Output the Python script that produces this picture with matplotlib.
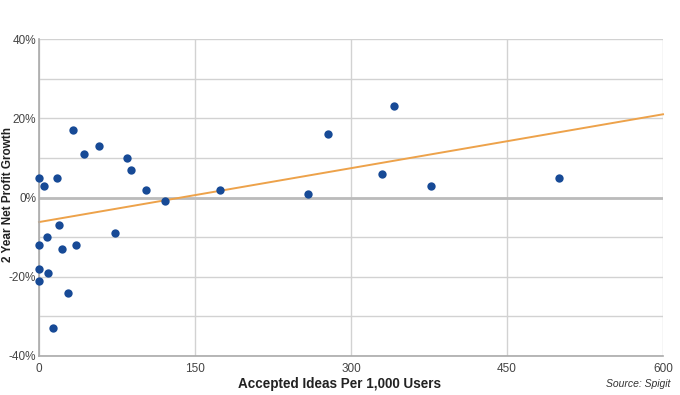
import matplotlib
matplotlib.use("Agg")
import matplotlib.pyplot as plt
from matplotlib import font_manager

ideas = [0, 5, 17, 33, 43, 58, 85, 88, 103, 121, 174, 259, 278, 330, 341, 377, 500,
         19, 8, 0, 22, 36, 73, 0, 0, 9, 28, 13]
growth = [5, 3, 5, 17, 11, 13, 10, 7, 2, -1, 2, 1, 16, 6, 23, 3, 5,
          -7, -10, -12, -13, -12, -9, -18, -21, -19, -24, -33]
trend_x = [0, 600]
trend_y = [-6.2, 21]
xticks = [0, 150, 300, 450, 600]
yticks = [-40, -20, 0, 20, 40]

names = {f.name for f in font_manager.fontManager.ttflist}
fam = "Liberation Sans Narrow" if "Liberation Sans Narrow" in names else "Liberation Sans"
plt.rcParams['font.family'] = [fam, 'DejaVu Sans']

fig = plt.figure(figsize=(6.8, 3.95), dpi=100)
ax = fig.add_axes([39/680, 1-356/395, (663-39)/680, (356-39)/395])

ax.set_xlim(0, 600)
ax.set_ylim(-40, 40)
ax.set_xticks(xticks)
ax.set_yticks(yticks)
ax.set_yticks(range(-40, 41, 10), minor=True)
ax.set_xticklabels([str(v) for v in xticks])
ax.set_yticklabels([f"{v}%" for v in yticks])
ax.tick_params(length=0, labelsize=8.5, colors="#444444")
ax.tick_params(axis="y", pad=2)
ax.tick_params(axis="x", pad=5)
ax.tick_params(which="minor", length=0)
ax.grid(True, which="both", color="#d2d2d2", linewidth=1)
ax.set_axisbelow(True)
for s in ["top", "right"]:
    ax.spines[s].set_visible(False)
for s in ["left", "bottom"]:
    ax.spines[s].set_color("#aaaaaa")
    ax.spines[s].set_linewidth(1.2)
ax.axhline(0, color="#bbbbbb", linewidth=2, zorder=1)

ax.plot(trend_x, trend_y, color="#eda24a", linewidth=1.4, zorder=2, clip_on=False)
ax.scatter(ideas, growth, s=36, color="#174a96", zorder=3, clip_on=False, linewidths=0)

fig.text(340/680, 1-384/395, "Accepted Ideas Per 1,000 Users", ha="center", va="center",
         fontsize=9.75, fontweight="bold", color="#222222")
fig.text(8/680, 1-194/395, "2 Year Net Profit Growth", ha="center", va="center", rotation=90,
         fontsize=8.5, fontweight="bold", color="#222222")
fig.text(670/680, 1-384/395, "Source: Spigit", ha="right", va="center", fontsize=7.5,
         style="italic", color="#333333")

fig.savefig("out.png", dpi=100)
